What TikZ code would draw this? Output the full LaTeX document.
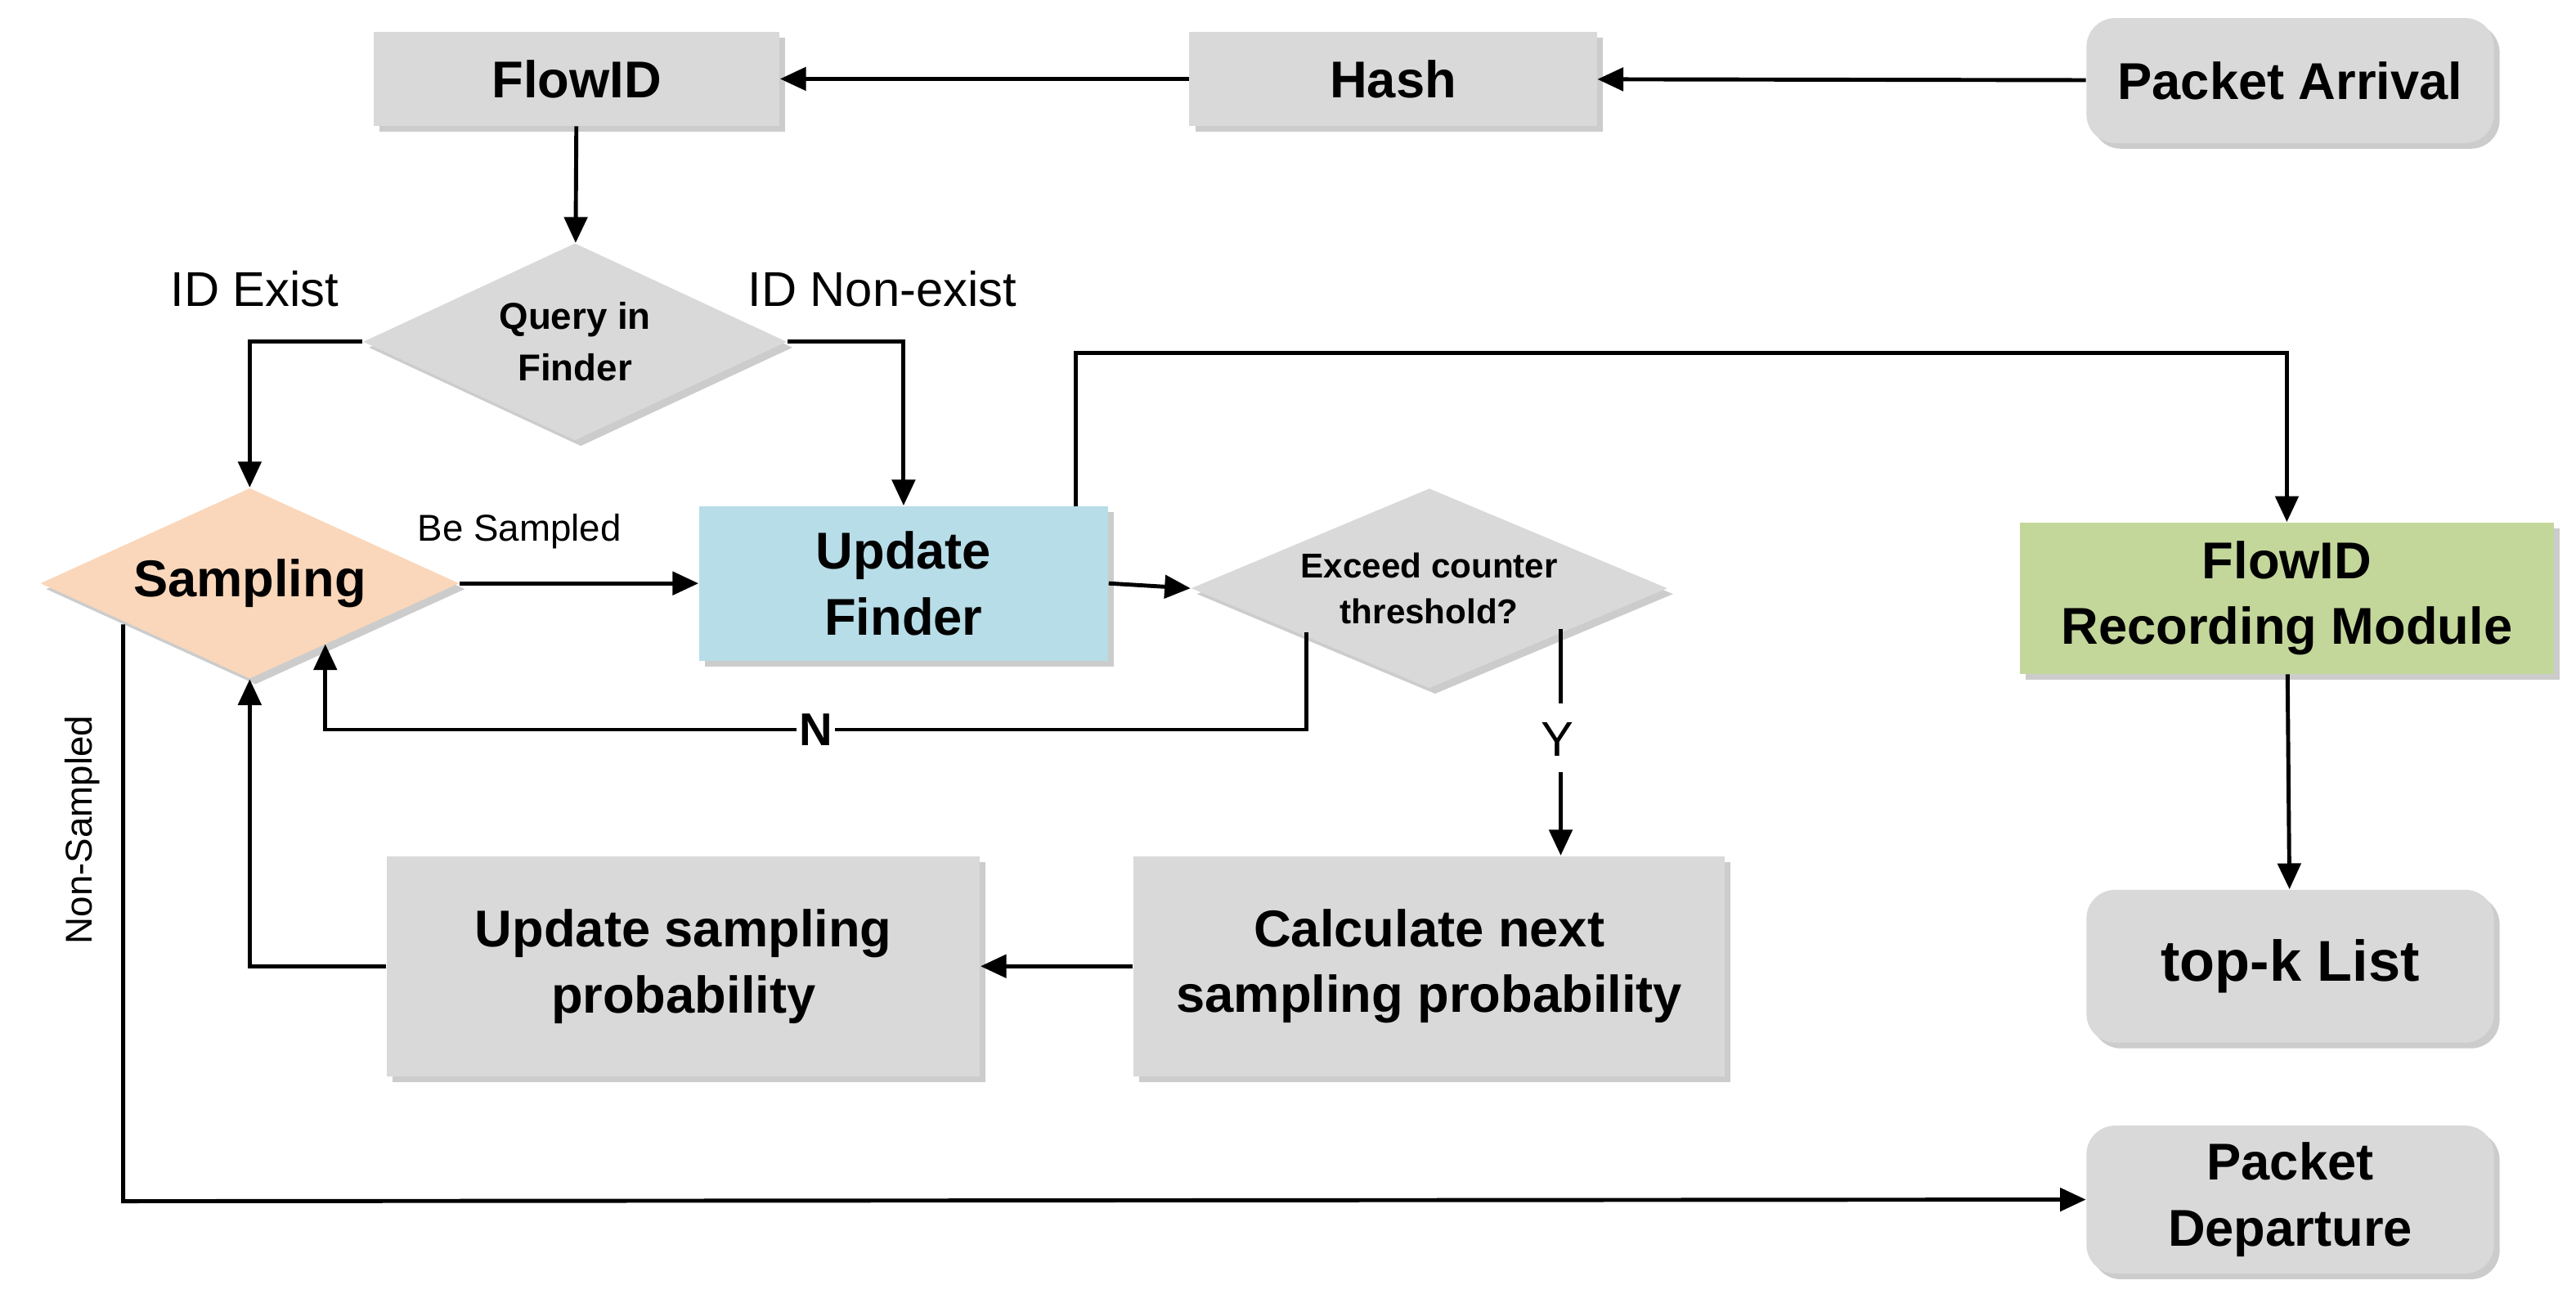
\documentclass[tikz,border=0pt]{standalone}
\usepackage{fontspec}
\setmainfont{Liberation Sans}
\usetikzlibrary{shapes.geometric,arrows.meta,shadows}
\definecolor{bx}{HTML}{D9D9D9}
\definecolor{org}{HTML}{FAD7BA}
\definecolor{blu}{HTML}{B7DDE8}
\definecolor{grn}{HTML}{C4D79B}
\begin{document}
\begin{tikzpicture}[x=0.2009mm,y=-0.2009mm,
  sh/.style={drop shadow={shadow xshift=2pt,shadow yshift=-2pt,fill=black!25,opacity=0.8}},
  box/.style={draw=none,fill=bx,sh,align=center,font=\bfseries\fontsize{18}{23}\selectfont,inner sep=0pt},
  rbox/.style={box,rounded corners=10pt},
  dia/.style={diamond,draw=none,fill=bx,sh,align=center,inner sep=0pt,aspect=2},
  ar/.style={line width=1.4pt,-{Triangle[length=9pt,width=8pt]}},
  ln/.style={line width=1.4pt},
  lbl/.style={font=\fontsize{17}{20}\selectfont}]
\useasboundingbox (0,0) rectangle (1568,798);
\node[box,minimum width=247*0.2009mm,minimum height=57*0.2009mm] (flow) at (351,48) {FlowID};
\node[box,minimum width=248*0.2009mm,minimum height=57*0.2009mm] (hash) at (848,48) {Hash};
\node[rbox,minimum width=248*0.2009mm,minimum height=76*0.2009mm] (arr) at (1394,49) {Packet Arrival};
\node[dia,minimum width=258*0.2009mm,minimum height=120*0.2009mm,font=\bfseries\fontsize{13}{18}\selectfont] (q) at (350,208) {Query in\\Finder};
\node[dia,fill=org,minimum width=255*0.2009mm,minimum height=116*0.2009mm,font=\bfseries\fontsize{18}{22}\selectfont] (s) at (152,355) {Sampling};
\node[box,fill=blu,minimum width=249*0.2009mm,minimum height=94*0.2009mm] (uf) at (550,355) {Update\\Finder};
\node[dia,minimum width=290*0.2009mm,minimum height=118*0.2009mm,font=\bfseries\fontsize{12}{16}\selectfont] (ex) at (870,358) {Exceed counter\\threshold?};
\node[box,fill=grn,minimum width=325*0.2009mm,minimum height=92*0.2009mm] (rec) at (1392,364) {FlowID\\Recording Module};
\node[rbox,minimum width=248*0.2009mm,minimum height=93*0.2009mm,font=\bfseries\fontsize{20}{24}\selectfont] (top) at (1394,588) {top-k List};
\node[box,minimum width=361*0.2009mm,minimum height=134*0.2009mm] (usp) at (416,588) {Update sampling\\probability};
\node[box,minimum width=360*0.2009mm,minimum height=134*0.2009mm] (calc) at (870,588) {Calculate next\\sampling probability};
\node[rbox,minimum width=248*0.2009mm,minimum height=90*0.2009mm] (dep) at (1394,730) {Packet\\Departure};
\coordinate (c1) at (75,731);
\draw[ar] (arr) -- (hash);
\draw[ar] (hash) -- (flow);
\draw[ar] (flow) -- (q);
\draw[ar] (q.west) -| (s.north);
\node[lbl] (l1) at (155,176) {ID Exist};
\node[lbl] (l2) at (537,176) {ID Non-exist};
\draw[ar] (q.east) -| (uf.north);
\draw[ar] (s.east) -- (uf.west) node[pos=0.25,above=8pt,font=\fontsize{13}{15}\selectfont] {Be Sampled};
\draw[ar] (uf.east) -- (ex.west);
\draw[ar] (655,308) -- (655,215) -| (rec.north);
\draw[ar] (795,385) -- (795,444) -- node[font=\bfseries\fontsize{16}{19}\selectfont,fill=white,inner sep=1pt]{N} (198,444) -- (198,392);
\draw[ln] (950,383) -- (950,428);
\node[lbl] (y) at (948,450) {Y};
\draw[ar] (950,470) -- (calc.north -| 950,0);
\draw[ar] (calc) -- (usp);
\draw[ar] (usp.west) -| (s.south);
\draw[ar] (75,380) -- (c1) -- (dep.west);
\node[lbl,font=\fontsize{13}{15}\selectfont,rotate=90] (ns) at (50,505) {Non-Sampled};
\draw[ar] (rec) -- (top);
\end{tikzpicture}
\end{document}
